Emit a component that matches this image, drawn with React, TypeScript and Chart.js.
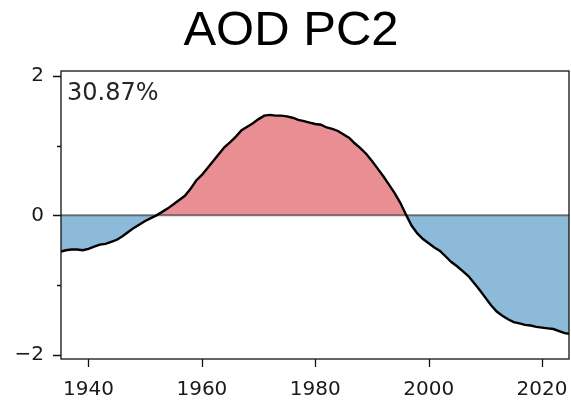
import React, { useEffect, useRef } from "react";
import { Chart, registerables } from "chart.js";

Chart.register(...registerables);

const titleText = "AOD PC2";
const varianceLabel = "30.87%";

const years = [
  1935, 1936, 1937, 1938, 1939, 1940, 1941, 1942, 1943, 1944,
  1945, 1946, 1947, 1948, 1949, 1950, 1951, 1952, 1953, 1954,
  1955, 1956, 1957, 1958, 1959, 1960, 1961, 1962, 1963, 1964,
  1965, 1966, 1967, 1968, 1969, 1970, 1971, 1972, 1973, 1974,
  1975, 1976, 1977, 1978, 1979, 1980, 1981, 1982, 1983, 1984,
  1985, 1986, 1987, 1988, 1989, 1990, 1991, 1992, 1993, 1994,
  1995, 1996, 1997, 1998, 1999, 2000, 2001, 2002, 2003, 2004,
  2005, 2006, 2007, 2008, 2009, 2010, 2011, 2012, 2013, 2014,
  2015, 2016, 2017, 2018, 2019, 2020, 2021, 2022, 2023, 2024,
  2025,
];

const pc2 = [
  -0.52, -0.5, -0.49, -0.49, -0.5, -0.48, -0.45, -0.42, -0.41, -0.38,
  -0.35, -0.3, -0.24, -0.18, -0.13, -0.08, -0.04, 0.0, 0.05, 0.1,
  0.16, 0.22, 0.28, 0.38, 0.5, 0.58, 0.68, 0.78, 0.88, 0.98,
  1.05, 1.13, 1.22, 1.27, 1.32, 1.38, 1.43, 1.44, 1.43, 1.43,
  1.42, 1.4, 1.37, 1.35, 1.33, 1.31, 1.3, 1.26, 1.24, 1.21,
  1.16, 1.11, 1.03, 0.96, 0.88, 0.78, 0.67, 0.56, 0.44, 0.32,
  0.18, 0.01, -0.15, -0.26, -0.34, -0.4, -0.46, -0.51, -0.59, -0.67,
  -0.73, -0.8, -0.87, -0.97, -1.07, -1.18, -1.29, -1.38, -1.44, -1.49,
  -1.53, -1.55, -1.57, -1.58, -1.6, -1.61, -1.62, -1.63, -1.66, -1.69,
  -1.7,
];

const xTicks = [1940, 1960, 1980, 2000, 2020];
const yTicks = [-2, -1, 0, 1, 2];
const yLabelled = [-2, 0, 2];

export default function App() {
  const ref = useRef<HTMLCanvasElement | null>(null);

  useEffect(() => {
    document.body.style.margin = "0";
    const canvas = ref.current;
    if (!canvas) return;

    const decor = {
      id: "decor",
      beforeDatasetsDraw(chart: any) {
        const { ctx, chartArea } = chart;
        const y0 = chart.scales.y.getPixelForValue(0);
        ctx.save();
        ctx.beginPath();
        ctx.moveTo(chartArea.left, y0);
        ctx.lineTo(chartArea.right, y0);
        ctx.strokeStyle = "rgba(40,40,40,0.6)";
        ctx.lineWidth = 2;
        ctx.stroke();
        ctx.restore();
      },
      afterDraw(chart: any) {
        const { ctx, chartArea } = chart;
        const xs = chart.scales.x;
        const ys = chart.scales.y;
        ctx.save();
        ctx.strokeStyle = "#111";
        ctx.lineWidth = 1.3;
        ctx.strokeRect(
          chartArea.left,
          chartArea.top,
          chartArea.right - chartArea.left,
          chartArea.bottom - chartArea.top
        );
        ctx.beginPath();
        for (const t of xTicks) {
          const px = Math.round(xs.getPixelForValue(t)) + 0.5;
          ctx.moveTo(px, chartArea.bottom);
          ctx.lineTo(px, chartArea.bottom + 8);
        }
        for (const t of yTicks) {
          const py = Math.round(ys.getPixelForValue(t)) + 0.5;
          const len = yLabelled.includes(t) ? 8 : 4;
          ctx.moveTo(chartArea.left, py);
          ctx.lineTo(chartArea.left - len, py);
        }
        ctx.stroke();
        ctx.fillStyle = "#000";
        ctx.font = "49px 'Liberation Sans', Arial, sans-serif";
        ctx.textAlign = "center";
        ctx.textBaseline = "alphabetic";
        ctx.fillText(titleText, 291, 45);
        ctx.fillStyle = "#262626";
        ctx.font = "24px 'DejaVu Sans', sans-serif";
        ctx.textAlign = "left";
        ctx.fillText(varianceLabel, chartArea.left + 6, 100);
        ctx.restore();
      },
    };

    const chart = new Chart(canvas, {
      type: "line",
      data: {
        datasets: [
          {
            data: years.map((yr, i) => ({ x: yr, y: pc2[i] })),
            borderColor: "#000",
            borderWidth: 2.4,
            pointRadius: 0,
            tension: 0,
            fill: {
              target: { value: 0 },
              above: "rgb(233,143,147)",
              below: "rgb(141,186,216)",
            },
          },
        ],
      },
      options: {
        animation: false,
        responsive: false,
        layout: { padding: { top: 71, right: 2, left: 0, bottom: 0 } },
        plugins: {
          legend: { display: false },
          tooltip: { enabled: false },
          title: { display: false },
          filler: { drawTime: "beforeDatasetsDraw" },
        },
        scales: {
          x: {
            type: "linear",
            min: 1935.15,
            max: 2024.75,
            grid: { display: false, drawTicks: false },
            border: { display: false },
            afterBuildTicks: (s: any) => {
              s.ticks = xTicks.map((v) => ({ value: v }));
            },
            afterFit: (s: any) => {
              s.height = 41;
              s.paddingLeft = 0;
              s.paddingRight = 0;
            },
            ticks: {
              autoSkip: false,
              maxRotation: 0,
              padding: 19,
              color: "#1a1a1a",
              font: { family: "'DejaVu Sans'", size: 20 },
              callback: (v: any) => String(v),
            },
          },
          y: {
            type: "linear",
            min: -2.06,
            max: 2.07,
            grid: { display: false, drawTicks: false },
            border: { display: false },
            afterBuildTicks: (s: any) => {
              s.ticks = yTicks.map((v) => ({ value: v }));
            },
            afterFit: (s: any) => {
              s.width = 61;
              s.paddingTop = 0;
              s.paddingBottom = 0;
            },
            ticks: {
              autoSkip: false,
              padding: 17,
              color: "#1a1a1a",
              font: { family: "'DejaVu Sans'", size: 20 },
              callback: (v: any) =>
                v === 2 ? "2" : v === 0 ? "0" : v === -2 ? "\u22122" : "",
            },
          },
        },
      },
      plugins: [decor],
    });

    return () => chart.destroy();
  }, []);

  return (
    <div style={{ width: 571, height: 400 }}>
      <canvas ref={ref} width={571} height={400} style={{ display: "block" }} />
    </div>
  );
}
